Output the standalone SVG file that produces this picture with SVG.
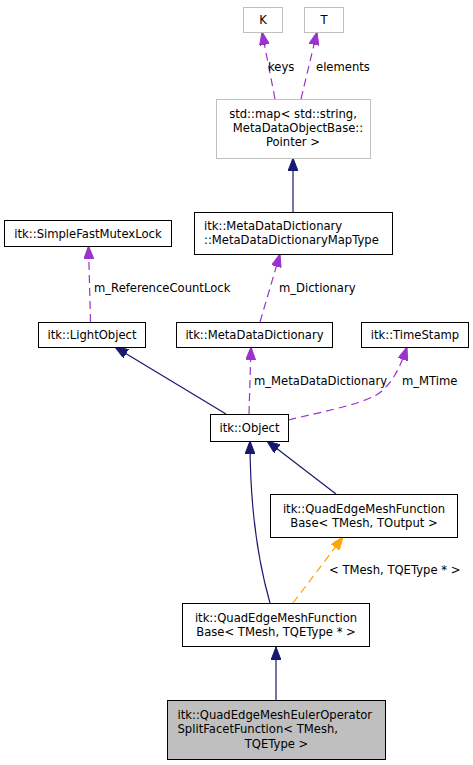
<svg xmlns="http://www.w3.org/2000/svg" width="473" height="765" viewBox="0 0 473 765">
<style>
text{font-family:"DejaVu Sans","Liberation Sans",sans-serif;font-size:11.6px;fill:#000}
.c{text-anchor:middle}
.box{fill:#fff;stroke:#000;stroke-width:1}
.gbox{fill:#fff;stroke:#bfbfbf;stroke-width:1}
.sel{fill:#bfbfbf;stroke:#000;stroke-width:1}
.inh{fill:none;stroke:#191970;stroke-width:1.2}
.use{fill:none;stroke:#9a32cd;stroke-width:1.2;stroke-dasharray:8,5}
.tpl{fill:none;stroke:#ffa500;stroke-width:1.2;stroke-dasharray:8,5}
</style>
<defs>
<marker id="aInh" markerUnits="userSpaceOnUse" markerWidth="13" markerHeight="10" viewBox="0 0 13 10" refX="13" refY="5" orient="auto"><path d="M0,0L13,5L0,10z" fill="#191970" stroke="#191970"/></marker>
<marker id="aUse" markerUnits="userSpaceOnUse" markerWidth="13" markerHeight="10" viewBox="0 0 13 10" refX="13" refY="5" orient="auto"><path d="M0,0L13,5L0,10z" fill="#9a32cd" stroke="#9a32cd"/></marker>
<marker id="aTpl" markerUnits="userSpaceOnUse" markerWidth="13" markerHeight="10" viewBox="0 0 13 10" refX="13" refY="5" orient="auto"><path d="M0,0L13,5L0,10z" fill="#ffa500" stroke="#ffa500"/></marker>
</defs>
<rect width="473" height="765" fill="#fff"/>
<g id="connectors">
<path class="use" d="M275,99L262,32" marker-end="url(#aUse)"/>
<text x="268" y="70.5">keys</text>
<path class="use" d="M301,99L317,32" marker-end="url(#aUse)"/>
<text x="316" y="70.5">elements</text>
<path class="inh" d="M293,212L293,158" marker-end="url(#aInh)"/>
<path class="use" d="M260,322L280,254" marker-end="url(#aUse)"/>
<text x="279" y="291.5">m_Dictionary</text>
<path class="use" d="M90.5,322L88.5,246" marker-end="url(#aUse)"/>
<text x="94" y="291.5">m_ReferenceCountLock</text>
<path class="inh" d="M226,414L115,347" marker-end="url(#aInh)"/>
<path class="use" d="M249,414L251,347" marker-end="url(#aUse)"/>
<text x="254" y="385">m_MetaDataDictionary</text>
<path class="use" d="M288,420C330,410 368,403 382,391C393,381 400,368 407,347" marker-end="url(#aUse)"/>
<text x="402" y="385">m_MTime</text>
<path class="inh" d="M270,603C262,575 250,520 250,441" marker-end="url(#aInh)"/>
<path class="inh" d="M336,494L267,441" marker-end="url(#aInh)"/>
<path class="tpl" d="M293,603L343,537" marker-end="url(#aTpl)"/>
<text x="329" y="574">&lt; TMesh, TQEType * &gt;</text>
<path class="inh" d="M276,700L276,647" marker-end="url(#aInh)"/>
</g>
<g id="K"><rect class="gbox" x="243.5" y="7.5" width="39" height="25"/><text class="c" x="263" y="24">K</text></g>
<g id="T"><rect class="gbox" x="304.5" y="7.5" width="39" height="25"/><text class="c" x="324" y="24">T</text></g>
<g id="stdmap"><rect class="gbox" x="216.5" y="99.5" width="154" height="59"/><text class="c" x="293" y="117.5">std::map&lt; std::string,</text><text class="c" x="298" y="131.5">MetaDataObjectBase::</text><text class="c" x="293" y="145.5">Pointer &gt;</text></g>
<g id="MapType"><rect class="box" x="194.5" y="212.5" width="198" height="42"/><text x="204" y="230">itk::MetaDataDictionary</text><text x="204" y="244">::MetaDataDictionaryMapType</text></g>
<g id="SimpleFastMutexLock"><rect class="box" x="4.5" y="220.5" width="167" height="26"/><text class="c" x="88" y="237.5">itk::SimpleFastMutexLock</text></g>
<g id="LightObject"><rect class="box" x="38.5" y="322.5" width="107" height="25"/><text class="c" x="92" y="339">itk::LightObject</text></g>
<g id="MetaDataDictionary"><rect class="box" x="176.5" y="322.5" width="156" height="25"/><text class="c" x="254.5" y="339">itk::MetaDataDictionary</text></g>
<g id="TimeStamp"><rect class="box" x="361.5" y="322.5" width="107" height="25"/><text class="c" x="415" y="339">itk::TimeStamp</text></g>
<g id="Object"><rect class="box" x="210.5" y="414.5" width="78" height="27"/><text class="c" x="249.5" y="432">itk::Object</text></g>
<g id="FuncBaseOutput"><rect class="box" x="270.5" y="494.5" width="187" height="43"/><text class="c" x="364" y="512.5">itk::QuadEdgeMeshFunction</text><text class="c" x="364" y="526.5">Base&lt; TMesh, TOutput &gt;</text></g>
<g id="FuncBaseQE"><rect class="box" x="182.5" y="603.5" width="187" height="43"/><text class="c" x="276" y="622">itk::QuadEdgeMeshFunction</text><text class="c" x="276" y="636">Base&lt; TMesh, TQEType * &gt;</text></g>
<g id="SplitFacet"><rect class="sel" x="167.5" y="700.5" width="218" height="59"/><text x="177.5" y="718.5">itk::QuadEdgeMeshEulerOperator</text><text x="177.5" y="733">SplitFacetFunction&lt; TMesh,</text><text class="c" x="276.5" y="747.5">TQEType &gt;</text></g>
</svg>
